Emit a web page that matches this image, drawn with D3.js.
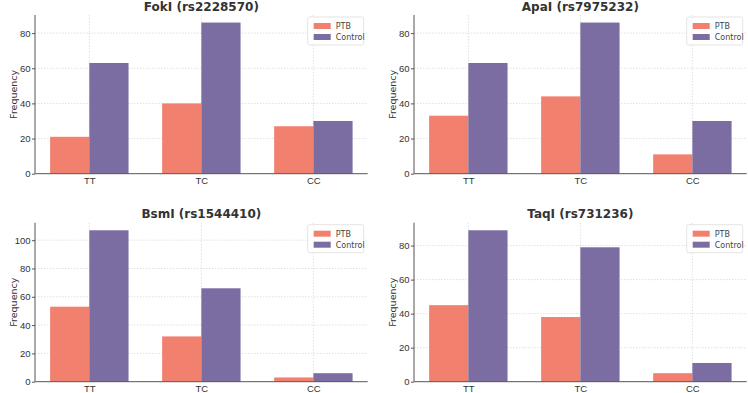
<!DOCTYPE html>
<html>
<head>
<meta charset="utf-8">
<script src="https://cdn.jsdelivr.net/npm/d3@7"></script>
<style>
  body { margin: 0; background: #fff; }
  svg { display: block; font-family: "DejaVu Sans", sans-serif; }
</style>
</head>
<body>
<svg id="chart" width="748" height="393"></svg>
<script>
const genotypes = ["TT", "TC", "CC"];
const seriesNames = ["PTB", "Control"];
const seriesColors = ["#F2806F", "#7B6CA1"];
const titles = ["FokI (rs2228570)", "ApaI (rs7975232)", "BsmI (rs1544410)", "TaqI (rs731236)"];
const ptbValues = [
  [21, 40, 27],
  [33, 44, 11],
  [53, 32, 3],
  [45, 38, 5]
];
const controlValues = [
  [63, 86, 30],
  [63, 86, 30],
  [107, 66, 6],
  [89, 79, 11]
];
const yTicks = [
  [0, 20, 40, 60, 80],
  [0, 20, 40, 60, 80],
  [0, 20, 40, 60, 80, 100],
  [0, 20, 40, 60, 80]
];

const svg = d3.select("#chart");
const panels = [
  {x0: 35, x1: 367.7, y0: 15, y1: 173.7},
  {x0: 414, x1: 746.7, y0: 15, y1: 173.7},
  {x0: 35, x1: 367.7, y0: 222.7, y1: 381.7},
  {x0: 414, x1: 746.7, y0: 222.7, y1: 381.7}
];
const barW = 0.35;

panels.forEach((p, i) => {
  const g = svg.append("g");
  const ptb = ptbValues[i], ctl = controlValues[i];
  const maxV = d3.max(ptb.concat(ctl));
  const lo = -barW, hi = genotypes.length - 1 + barW;
  const m = (hi - lo) * 0.05;
  const x = d3.scaleLinear().domain([lo - m, hi + m]).range([p.x0, p.x1]);
  const y = d3.scaleLinear().domain([0, maxV * 1.05]).range([p.y1, p.y0]);

  // grid
  g.append("g").selectAll("line.gy").data(yTicks[i].filter(t => t > 0)).join("line")
    .attr("x1", p.x0).attr("x2", p.x1)
    .attr("y1", d => y(d)).attr("y2", d => y(d))
    .attr("stroke", "#d4d4d4").attr("stroke-width", 0.7).attr("stroke-dasharray", "1.5,1.5");
  g.append("g").selectAll("line.gx").data(genotypes).join("line")
    .attr("x1", (d, j) => x(j)).attr("x2", (d, j) => x(j))
    .attr("y1", p.y0).attr("y2", p.y1)
    .attr("stroke", "#d4d4d4").attr("stroke-width", 0.7).attr("stroke-dasharray", "1.5,1.5");

  // bars
  const series = [ptb, ctl];
  series.forEach((vals, s) => {
    g.append("g").selectAll("rect").data(vals).join("rect")
      .attr("x", (d, j) => x(j + (s === 0 ? -barW : 0)))
      .attr("width", x(barW) - x(0))
      .attr("y", d => y(d))
      .attr("height", d => y(0) - y(d))
      .attr("fill", seriesColors[s]);
  });

  // axes
  const yAxis = d3.axisLeft(y).tickValues(yTicks[i]).tickSize(3).tickPadding(1.5);
  const ya = g.append("g").attr("transform", `translate(${p.x0},0)`).call(yAxis);
  const xa = g.append("g").attr("transform", `translate(0,${p.y1})`)
    .call(d3.axisBottom(x).tickValues([0, 1, 2]).tickFormat(j => genotypes[j]).tickSize(0).tickPadding(3.5));
  [ya, xa].forEach(a => {
    a.select(".domain").attr("stroke", "#555").attr("stroke-width", 1);
    a.selectAll(".tick line").attr("stroke", "#555");
    a.selectAll("text").attr("fill", "#333").style("font-size", "9.5px");
  });
  xa.select(".domain").attr("d", `M${p.x0},0H${p.x1}`);
  ya.select(".domain").attr("d", `M0,${p.y1}V${p.y0}`);

  // y label
  g.append("text")
    .attr("transform", `translate(${p.x0 - 18.5},${(p.y0 + p.y1) / 2}) rotate(-90)`)
    .attr("text-anchor", "middle")
    .attr("fill", "#333").style("font-size", "9.5px")
    .text("Frequency");

  // title
  g.append("text")
    .attr("x", (p.x0 + p.x1) / 2).attr("y", p.y0 - 4.5)
    .attr("text-anchor", "middle")
    .attr("fill", "#333").style("font-size", "12px").style("font-weight", "bold")
    .text(titles[i]);

  // legend
  const lw = 56, lh = 28;
  const lx = p.x1 - 4 - lw, ly = p.y0 + 2;
  const leg = g.append("g").attr("transform", `translate(${lx},${ly})`);
  leg.append("rect").attr("width", lw).attr("height", lh).attr("rx", 2)
    .attr("fill", "#fff").attr("fill-opacity", 0.85).attr("stroke", "#dcdcdc").attr("stroke-width", 0.8);
  seriesNames.forEach((n, s) => {
    leg.append("rect").attr("x", 6).attr("y", 6 + s * 11).attr("width", 17).attr("height", 6)
      .attr("fill", seriesColors[s]);
    leg.append("text").attr("x", 28).attr("y", 12 + s * 11)
      .attr("fill", "#444").style("font-size", "8px").text(n);
  });
});
</script>
</body>
</html>
